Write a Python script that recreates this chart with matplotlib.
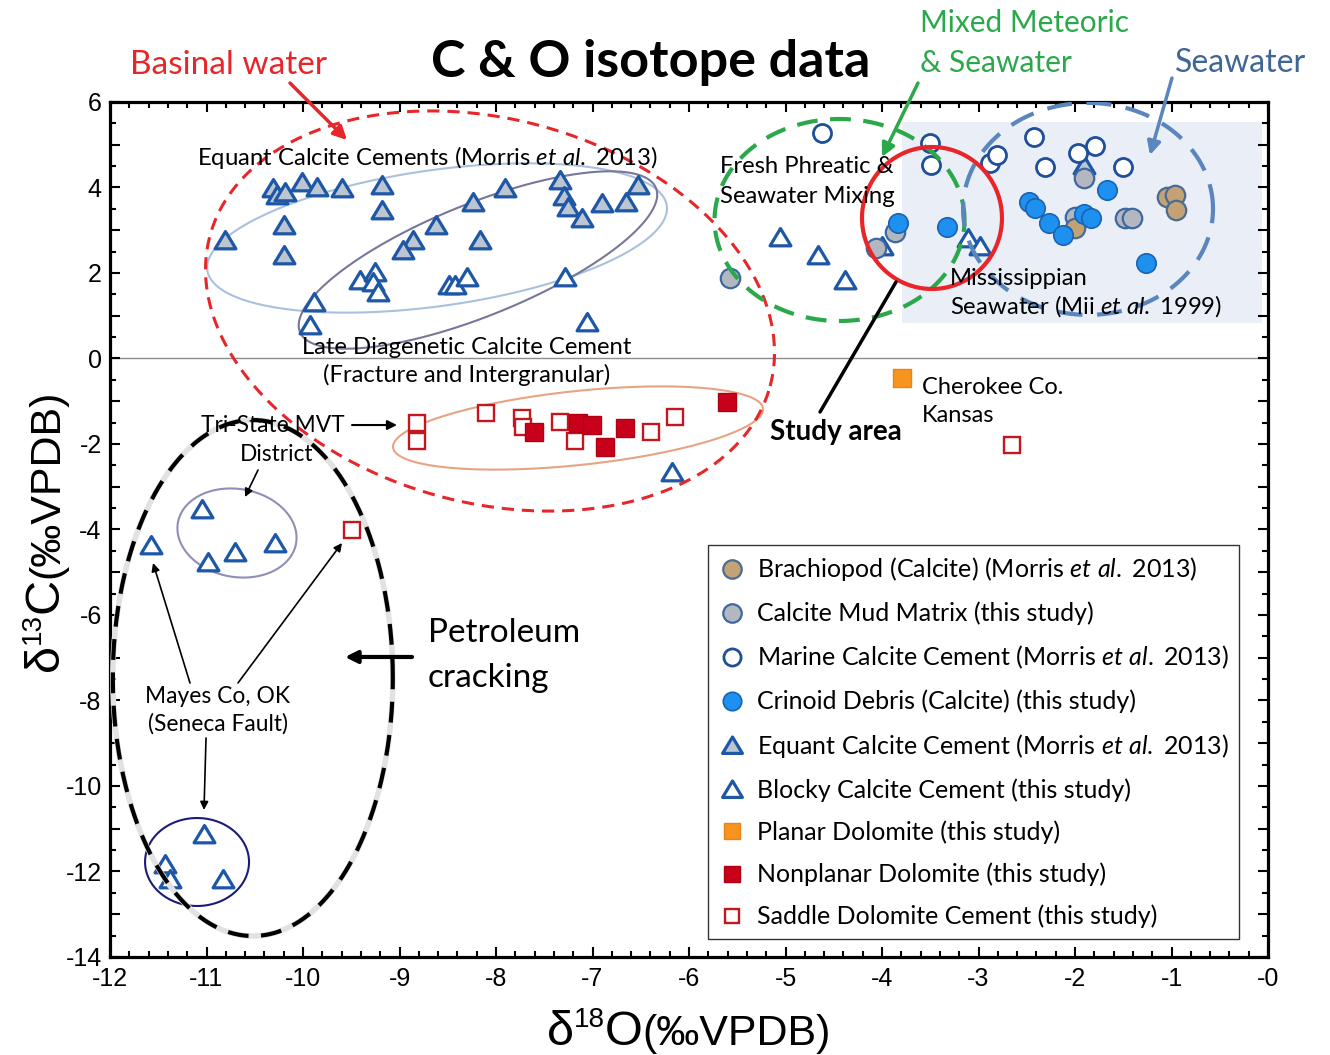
import numpy as np
import matplotlib
matplotlib.use('Agg')
import matplotlib.pyplot as plt
from matplotlib.ticker import MultipleLocator, FuncFormatter
from matplotlib.patches import Rectangle
from matplotlib.path import Path
from matplotlib.transforms import IdentityTransform

plt.rcParams['font.family'] = ['Lato', 'DejaVu Sans']
plt.rcParams['mathtext.fontset'] = 'custom'
plt.rcParams['mathtext.rm'] = 'Lato'
plt.rcParams['mathtext.it'] = 'Lato:italic'
plt.rcParams['mathtext.bf'] = 'Lato:bold'
plt.rcParams['axes.unicode_minus'] = False

# ---------------- data (delta18O, delta13C) ----------------
brach_x = [-2.00, -1.05, -0.96, -0.95]
brach_y = [3.05, 3.78, 3.82, 3.47]

mud_x = [-5.58, -3.87, -4.06, -1.91, -2.00, -1.48, -1.41]
mud_y = [1.88, 2.97, 2.58, 4.22, 3.32, 3.28, 3.28]

marine_x = [-4.62, -3.50, -3.49, -2.88, -2.81, -2.43, -2.31, -1.97, -1.79, -1.50]
marine_y = [5.27, 5.03, 4.53, 4.57, 4.76, 5.19, 4.49, 4.80, 4.96, 4.49]

crinoid_x = [-3.83, -3.33, -2.48, -2.41, -2.27, -2.12, -1.91, -1.83, -1.67, -1.26]
crinoid_y = [3.16, 3.08, 3.67, 3.51, 3.16, 2.89, 3.39, 3.28, 3.94, 2.23]

equant_x = [-10.81, -10.31, -10.27, -10.19, -10.01, -9.86, -9.60, -9.18, -9.18,
            -10.20, -10.20, -8.86, -8.96, -8.62, -8.24, -7.91, -8.17, -7.34,
            -7.30, -7.25, -7.11, -6.90, -6.65, -6.53, -1.91]
equant_y = [2.77, 3.98, 3.83, 3.90, 4.14, 4.02, 3.98, 4.06, 3.47,
            3.12, 2.42, 2.77, 2.54, 3.12, 3.67, 3.98, 2.77, 4.18,
            3.79, 3.55, 3.28, 3.63, 3.67, 4.06, 4.53]

blocky_x = [-9.41, -9.25, -9.27, -9.22, -9.89, -9.93, -8.49, -8.42, -8.30, -7.28,
            -7.06, -5.06, -4.66, -4.38, -4.00, -3.11, -2.98, -6.18,
            -11.57, -11.05, -10.98, -10.70, -10.29, -11.03, -11.43, -11.38, -10.83]
blocky_y = [1.84, 2.03, 1.80, 1.56, 1.33, 0.78, 1.72, 1.72, 1.91, 1.91,
            0.86, 2.85, 2.42, 1.84, 2.62, 2.81, 2.62, -2.65,
            -4.36, -3.52, -4.77, -4.52, -4.31, -11.12, -11.83, -12.17, -12.17]

planar_x = [-3.79]
planar_y = [-0.46]

nonplanar_x = [-7.61, -7.15, -7.01, -6.87, -6.66, -5.61]
nonplanar_y = [-1.71, -1.52, -1.56, -2.06, -1.63, -1.01]

saddle_x = [-8.82, -8.82, -8.10, -7.73, -7.72, -7.34, -7.18, -6.39, -6.15, -2.65, -9.49]
saddle_y = [-1.52, -1.94, -1.28, -1.40, -1.60, -1.48, -1.94, -1.71, -1.36, -2.02, -4.02]

legend_labels = [
    'Brachiopod (Calcite) (Morris $\\it{et\\ al.}$ 2013)',
    'Calcite Mud Matrix (this study)',
    'Marine Calcite Cement (Morris $\\it{et\\ al.}$ 2013)',
    'Crinoid Debris (Calcite) (this study)',
    'Equant Calcite Cement (Morris $\\it{et\\ al.}$ 2013)',
    'Blocky Calcite Cement (this study)',
    'Planar Dolomite (this study)',
    'Nonplanar Dolomite (this study)',
    'Saddle Dolomite Cement (this study)',
]

# ---------------- figure ----------------
W, H = 1330, 1055
fig = plt.figure(figsize=(W / 100, H / 100), dpi=100)
ax = fig.add_axes([110 / W, 1 - 957 / H, (1268 - 110) / W, (957 - 102) / H])
ax.set_xlim(-12, 0)
ax.set_ylim(-14, 6)

# shaded seawater field
ax.add_patch(Rectangle((-3.79, 0.83), 3.73, 4.70, facecolor='#e9eef7',
                       edgecolor='none', zorder=0))
ax.axhline(0, color='#8c8c8c', lw=1.0, zorder=1)


def ellipse(cx, cy, a, b, ang, z=4, **kw):
    c = ax.transData.transform((cx, cy))
    t = np.linspace(0, 2 * np.pi, 400)
    th = np.deg2rad(ang)
    xs = c[0] + a * np.cos(t) * np.cos(th) - b * np.sin(t) * np.sin(th)
    ys = c[1] + a * np.cos(t) * np.sin(th) + b * np.sin(t) * np.cos(th)
    pts = ax.transData.inverted().transform(np.column_stack([xs, ys]))
    ax.plot(pts[:, 0], pts[:, 1], zorder=z, solid_capstyle='butt', **kw)


# outlines behind markers
ellipse(-8.611, 2.819, 232, 68, 8, z=2, color='#a9c1dd', lw=1.5)
ellipse(-8.187, 2.304, 192, 56, 22, z=2, color='#77779a', lw=1.5)
ellipse(-7.150, -1.626, 186, 37, 6, z=2, color='#e8a383', lw=1.5)
ellipse(-10.684, -4.082, 60, 44, -10, z=2, color='#8e8eba', lw=1.5)
ellipse(-11.098, -11.778, 52, 44, 0, z=2, color='#1c1c78', lw=1.5)

# ---------------- markers ----------------
tri = Path([(-1, -0.8), (1, -0.8), (0, 0.86), (-1, -0.8)], closed=True)
mk = dict(ls='none', zorder=3)
h_saddle, = ax.plot(saddle_x, saddle_y, marker='s', ms=11, mfc='white',
                    mec='#c4161c', mew=1.7, **mk)
h_nonpl, = ax.plot(nonplanar_x, nonplanar_y, marker='s', ms=12.5, mfc='#c8001a',
                   mec='#b00015', mew=1.0, **mk)
h_planar, = ax.plot(planar_x, planar_y, marker='s', ms=12.5, mfc='#f7941d',
                    mec='#e8821a', mew=1.0, **mk)
h_equant, = ax.plot(equant_x, equant_y, marker=tri, ms=15, mfc='#bcc6d2',
                    mec='#1d57a5', mew=2.3, **mk)
h_blocky, = ax.plot(blocky_x, blocky_y, marker=tri, ms=15, mfc='white',
                    mec='#1d57a5', mew=2.3, **mk)
h_marine, = ax.plot(marine_x, marine_y, marker='o', ms=13, mfc='white',
                    mec='#1f4f98', mew=2.0, **mk)
h_mud, = ax.plot(mud_x, mud_y, marker='o', ms=14, mfc='#b3b7bf',
                 mec='#3d67a3', mew=1.6, **mk)
h_brach, = ax.plot(brach_x, brach_y, marker='o', ms=14, mfc='#c3a275',
                   mec='#4c6b92', mew=1.6, **mk)
h_crin, = ax.plot(crinoid_x, crinoid_y, marker='o', ms=14, mfc='#1e90f0',
                  mec='#1b63b0', mew=1.2, **mk)

# dashed / bold outlines on top
ellipse(-8.062, 1.111, 290, 192, -15, color='#e8262a', lw=2.2, ls=(0, (4, 2.6)))
ellipse(-4.44, 3.24, 125, 101, 0, color='#2aa84a', lw=3.0, ls=(0, (5, 3)))
ellipse(-1.865, 3.50, 125, 106, 0, color='#5a85bd', lw=3.0, ls=(0, (6, 3.5)))
ellipse(-3.482, 3.287, 70, 71, 0, color='#e8262a', lw=3.0)
ellipse(-10.52, -7.474, 140, 258, 0, color='#e2e2e2', lw=4.0)
ellipse(-10.52, -7.474, 140, 258, 0, color='black', lw=3.0, ls=(0, (5, 3)))

# ---------------- axes styling ----------------
ax.xaxis.set_major_locator(MultipleLocator(1))
ax.xaxis.set_minor_locator(MultipleLocator(0.2))
ax.yaxis.set_major_locator(MultipleLocator(1))
ax.yaxis.set_minor_locator(MultipleLocator(0.5))
ax.xaxis.set_major_formatter(FuncFormatter(lambda v, p: '-0' if abs(v) < 1e-9 else f'{int(round(v))}'))
ax.yaxis.set_major_formatter(FuncFormatter(lambda v, p: f'{int(round(v))}' if int(round(v)) % 2 == 0 else ''))
ax.tick_params(which='both', direction='in', top=True, right=True, width=1.5,
               labelsize=18, labelfontfamily='Liberation Sans')
ax.tick_params(which='major', length=7)
ax.tick_params(which='minor', length=4.5)
ax.tick_params(axis='x', pad=7)
ax.tick_params(axis='y', pad=6)
for s in ax.spines.values():
    s.set_linewidth(2.3)

# ---------------- legend ----------------
handles = [h_brach, h_mud, h_marine, h_crin, h_equant, h_blocky, h_planar, h_nonpl, h_saddle]
leg = ax.legend(handles, legend_labels, loc='upper left', bbox_to_anchor=(0.516, 0.482),
                frameon=True, fancybox=False, edgecolor='#333333', framealpha=1,
                fontsize=18, labelspacing=0.74, handletextpad=0.45, borderpad=0.42,
                handlelength=1.1, borderaxespad=0, markerscale=0.95)
leg.get_frame().set_linewidth(1.0)
leg.set_zorder(6)

# ---------------- annotations in the plot ----------------
fs = 17.2
ax.text(-11.098, 4.713, 'Equant Calcite Cements (Morris $\\it{et\\ al.}$ 2013)', fontsize=fs,
        ha='left', va='center', zorder=5)
ax.text(-8.301, 0.269, 'Late Diagenetic Calcite Cement', fontsize=fs, ha='center', va='center', zorder=5)
ax.text(-8.301, -0.386, '(Fracture and Intergranular)', fontsize=fs, ha='center', va='center', zorder=5)
ax.text(-5.679, 4.480, 'Fresh Phreatic &', fontsize=fs, ha='left', va='center', zorder=5)
ax.text(-5.679, 3.801, 'Seawater Mixing', fontsize=fs, ha='left', va='center', zorder=5)
ax.text(-3.295, 1.883, 'Mississippian', fontsize=fs, ha='left', va='center', zorder=5)
ax.text(-3.295, 1.228, 'Seawater (Mii $\\it{et\\ al.}$ 1999)', fontsize=fs, ha='left', va='center', zorder=5)
ax.text(-3.585, -0.667, 'Cherokee Co.', fontsize=17, ha='left', va='center', zorder=5)
ax.text(-3.585, -1.322, 'Kansas', fontsize=17, ha='left', va='center', zorder=5)
ax.text(-11.057, -1.556, 'Tri-State MVT', fontsize=16.4, ha='left', va='center', zorder=5)
ax.text(-10.269, -2.234, 'District', fontsize=16.4, ha='center', va='center', zorder=5)
ax.text(-8.705, -6.421, 'Petroleum', fontsize=24, ha='left', va='center', zorder=5)
ax.text(-8.705, -7.474, 'cracking', fontsize=24, ha='left', va='center', zorder=5)
ax.text(-10.881, -7.895, 'Mayes Co, OK', fontsize=16.4, ha='center', va='center', zorder=5)
ax.text(-10.881, -8.550, '(Seneca Fault)', fontsize=16.4, ha='center', va='center', zorder=5)
ax.text(-5.161, -1.719, 'Study area', fontsize=20, weight='bold', ha='left', va='center', zorder=5)


def arrow(start, end, color='black', lw=1.2, head='-|>', ms=14):
    ax.annotate('', xy=end, xytext=start, annotation_clip=False,
                arrowprops=dict(arrowstyle=head, color=color, lw=lw, mutation_scale=ms,
                                shrinkA=0, shrinkB=0), zorder=5)


arrow((-10.135, 6.444), (-9.544, 5.111), color='#e8262a', lw=2.5, ms=20)
arrow((-3.627, 6.444), (-4.0, 4.713), color='#2aa84a', lw=2.5, ms=20)
arrow((-0.995, 6.561), (-1.223, 4.760), color='#5a85bd', lw=2.5, ms=20)
arrow((-3.855, 1.789), (-4.642, -1.251), lw=2.5, head='-')
arrow((-9.492, -1.556), (-9.026, -1.556), lw=1.5, ms=14)
arrow((-10.466, -2.608), (-10.601, -3.240), lw=1.2, ms=12)
arrow((-8.870, -6.982), (-9.565, -6.982), lw=3.0, ms=18)
arrow((-11.171, -7.591), (-11.554, -4.784), lw=1.2, ms=12)
arrow((-10.674, -7.591), (-9.596, -4.316), lw=1.2, ms=12)
arrow((-11.005, -8.877), (-11.026, -10.561), lw=1.2, ms=12)

# ---------------- text outside the axes ----------------
fig.text(651 / W, 1 - 62 / H, 'C & O isotope data', fontsize=37.5, weight='bold',
         ha='center', va='center')
fig.text(130 / W, 1 - 65 / H, 'Basinal water', fontsize=24, color='#e8262a',
         ha='left', va='center')
fig.text(920 / W, 1 - 23 / H, 'Mixed Meteoric', fontsize=21.5, color='#2aa84a',
         ha='left', va='center')
fig.text(920 / W, 1 - 63 / H, '& Seawater', fontsize=21.5, color='#2aa84a',
         ha='left', va='center')
fig.text(1175 / W, 1 - 63 / H, 'Seawater', fontsize=23, color='#3e6796',
         ha='left', va='center')

# ---------------- composed axis labels ----------------
renderer = fig.canvas.get_renderer()


def compose(pieces, x0, y0, rot, center=None):
    texts = []
    widths = []
    for txt, size, rise in pieces:
        t = fig.text(0, 0, txt, fontsize=size, family='Liberation Sans', ha='left',
                     va='baseline', transform=IdentityTransform())
        widths.append(t.get_window_extent(renderer).width)
        texts.append((t, rise))
    total = sum(widths)
    if center is not None:
        if rot == 0:
            x0 = center - total / 2
        else:
            y0 = center - total / 2
    pos = 0.0
    for (t, rise), w in zip(texts, widths):
        if rot == 0:
            t.set_position((x0 + pos, y0 + rise))
        else:
            t.set_rotation(90)
            t.set_rotation_mode('anchor')
            t.set_position((x0 - rise, y0 + pos))
        pos += w


xl_pieces = [('δ', 35, 0), ('18', 20, 18), ('O', 35, 0), ('(‰VPDB)', 31, 0)]
compose(xl_pieces, 0, H - 1045, 0, center=689)
yl_pieces = [('δ', 35, 0), ('13', 20, 18), ('C', 35, 0), ('(‰VPDB)', 31, 0)]
compose(yl_pieces, 58, 0, 90, center=H - 530)

fig.savefig('out.png', dpi=100, facecolor='white')
